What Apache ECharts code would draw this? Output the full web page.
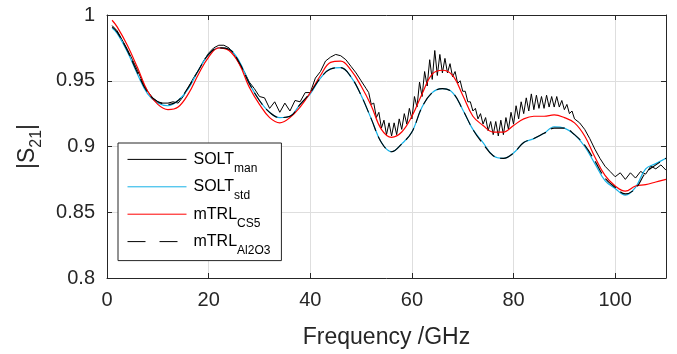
<!DOCTYPE html>
<html>
<head>
<meta charset="utf-8">
<script src="https://cdn.jsdelivr.net/npm/echarts@6/dist/echarts.min.js"></script>
<style>html,body{margin:0;padding:0;background:#fff;}#c{width:677px;height:354px;}</style>
</head>
<body>
<div id="c"></div>
<script>
// Frequencies (GHz) for the noisy SOLT_man trace
const freqMan = [1,2,3,4,5,6,7,8,9,10,11,12,13,14,15,16,17,18,19,20,21,22,23,24,25,26,27,28,29,30,
31,32,33,34,35,36,37,38,39,40,41,42,43,44,45,46,47,48,49,50,51,
51.5,52,52.5,53,53.5,54,54.5,55,55.5,56,56.5,57,57.5,58,58.5,59,59.5,60,60.5,61,
61.5,62,62.5,63,63.5,64,64.5,65,65.5,66,66.5,67,67.5,68,68.5,69,69.5,70,70.5,71,
71.5,72,72.5,73,73.5,74,74.5,75,75.5,76,76.5,77,77.5,78,78.5,79,79.5,80,80.5,81,
81.5,82,82.5,83,83.5,84,84.5,85,85.5,86,86.5,87,87.5,88,88.5,89,89.5,90,90.5,91,
91.5,92,
93,94,95,96,97,98,99,100,101,102,103,104,105,106,107,108,109,110];
const soltMan = [0.992,0.988,0.981,0.974,0.966,0.958,0.949,0.942,0.937,0.934,
0.933,0.933,0.934,0.933,0.938,0.945,0.952,0.958,0.965,0.971,
0.975,0.977,0.977,0.975,0.970,0.963,0.957,0.949,0.944,0.938,
0.937,0.929,0.934,0.926,0.933,0.927,0.935,0.934,0.941,0.941,
0.952,0.957,0.965,0.968,0.970,0.969,0.966,0.961,0.956,0.950,
0.944,
0.941,0.932,0.933,0.922,0.926,0.914,0.920,0.909,0.918,0.908,
0.918,0.909,0.921,0.913,0.925,0.917,0.929,0.921,0.938,0.930,
0.949,0.938,0.957,0.946,0.966,0.951,0.973,0.954,0.970,0.956,
0.967,0.956,0.963,0.953,0.957,0.948,0.950,0.942,0.942,0.934,
0.934,0.927,0.929,0.921,0.925,0.917,0.922,0.912,0.919,0.909,
0.919,0.908,0.920,0.909,0.922,0.913,0.926,0.917,0.931,0.921,
0.934,0.925,0.937,0.927,0.940,0.928,0.939,0.929,0.938,0.929,
0.939,0.930,0.938,0.930,0.938,0.930,0.935,0.928,0.932,0.925,
0.927,0.921,
0.918,0.913,0.906,0.898,0.891,0.885,0.881,0.877,0.880,0.875,0.880,0.876,0.881,0.879,0.885,0.883,0.886,0.882];

// Frequencies (GHz) for the smooth traces
const freq = [1,2,4,6,8,10,12,14,16,18,20,22,24,26,28,30,32,34,36,38,40,42,44,46,48,50,
52,54,56,58,60,62,64,66,68,70,72,74,76,78,80,82,84,86,88,90,92,94,96,98,100,102,104,106,108,110];
const soltStd = [0.990,0.986,0.972,0.955,0.940,0.933,0.931,0.935,0.944,0.958,0.970,0.975,0.974,0.965,0.948,0.935,
0.926,0.922,0.923,0.932,0.940,0.952,0.959,0.960,0.953,0.939,0.921,0.903,0.896,0.902,0.911,0.930,0.941,0.944,
0.941,0.928,0.913,0.903,0.893,0.891,0.895,0.903,0.906,0.910,0.915,0.914,0.909,0.900,0.887,0.874,0.868,0.863,
0.869,0.883,0.887,0.891];
const mtrlCS5 = [0.996,0.991,0.977,0.960,0.942,0.932,0.928,0.930,0.940,0.955,0.968,0.975,0.973,0.963,0.945,0.932,
0.922,0.918,0.922,0.930,0.941,0.954,0.964,0.965,0.958,0.946,0.931,0.913,0.907,0.911,0.923,0.940,0.955,0.958,
0.954,0.939,0.923,0.916,0.911,0.911,0.916,0.921,0.923,0.923,0.924,0.922,0.918,0.908,0.892,0.878,0.870,0.866,
0.870,0.871,0.873,0.875];
const mtrlAl2O3 = [0.991,0.987,0.973,0.956,0.941,0.934,0.932,0.935,0.945,0.958,0.970,0.975,0.974,0.964,0.948,0.935,
0.926,0.922,0.923,0.932,0.941,0.952,0.959,0.960,0.953,0.939,0.921,0.903,0.896,0.902,0.911,0.930,0.941,0.944,
0.941,0.928,0.913,0.902,0.893,0.891,0.895,0.903,0.906,0.910,0.914,0.914,0.909,0.901,0.889,0.876,0.869,0.864,
0.868,0.880,0.886,0.891];

const seriesNames = ['SOLT_man','SOLT_std','mTRL_CS5','mTRL_Al2O3'];
const xTicks = [0,20,40,60,80,100];
const yTicks = [0.8,0.85,0.9,0.95,1];

const FONT = '"Liberation Sans", Arial, Helvetica, sans-serif';
const AX = '#262626';
const pair = (xs, ys) => xs.map((x, i) => [x, ys[i]]);

const chart = echarts.init(document.getElementById('c'), null, {renderer: 'canvas'});
const xBase = {type: 'value', min: 0, max: 110, interval: 20,
  axisLine: {show: true, onZero: false, lineStyle: {color: AX, width: 1}},
  axisTick: {show: true, inside: true, length: 5, lineStyle: {color: AX}}};
const yBase = {type: 'value', min: 0.8, max: 1, interval: 0.05,
  axisLine: {show: true, onZero: false, lineStyle: {color: AX, width: 1}},
  axisTick: {show: true, inside: true, length: 5, lineStyle: {color: AX}}};

const option = {
  animation: false,
  textStyle: {fontFamily: FONT},
  grid: {left: 107, right: 11, top: 15, bottom: 75},
  xAxis: [
    Object.assign({}, xBase, {position: 'bottom',
      axisLabel: {color: AX, fontSize: 20, fontFamily: FONT, margin: 12,
        formatter: v => xTicks.indexOf(v) >= 0 ? String(v) : ''},
      splitLine: {show: true, lineStyle: {color: '#dedede', width: 1}},
      name: 'Frequency /GHz', nameLocation: 'middle', nameGap: 48,
      nameTextStyle: {color: AX, fontSize: 23, fontFamily: FONT}}),
    Object.assign({}, xBase, {position: 'top', axisLabel: {show: false}, splitLine: {show: false}})
  ],
  yAxis: [
    Object.assign({}, yBase, {position: 'left',
      axisLabel: {color: AX, fontSize: 20, fontFamily: FONT, margin: 12,
        formatter: v => { const t = yTicks.find(k => Math.abs(k - v) < 1e-9); return t === undefined ? '' : String(t); }},
      splitLine: {show: true, lineStyle: {color: '#dedede', width: 1}},
      name: '{a||S}{b|21}{a||}', nameLocation: 'middle', nameGap: 62, nameRotate: 90,
      nameTextStyle: {color: AX, fontFamily: FONT,
        rich: {a: {fontSize: 23, lineHeight: 34, color: AX, fontFamily: FONT},
               b: {fontSize: 16, lineHeight: 16, verticalAlign: 'bottom', color: AX, fontFamily: FONT}}}}),
    Object.assign({}, yBase, {position: 'right', axisLabel: {show: false}, splitLine: {show: false}})
  ],
  legend: {
    orient: 'vertical', left: 118, top: 143,
    padding: [4, 11, 4, 9], itemGap: 0, itemWidth: 59, itemHeight: 31,
    borderColor: AX, borderWidth: 1, backgroundColor: '#ffffff', borderRadius: 0,
    itemStyle: {opacity: 0, borderWidth: 0},
    data: [
      {name: seriesNames[0], itemStyle: {opacity: 0}, lineStyle: {width: 1, color: '#000000'}},
      {name: seriesNames[1], itemStyle: {opacity: 0}, lineStyle: {width: 1, color: '#14b1e7'}},
      {name: seriesNames[2], itemStyle: {opacity: 0}, lineStyle: {width: 1, color: '#ff0000'}},
      {name: seriesNames[3], itemStyle: {opacity: 0}, lineStyle: {width: 1, color: '#000000', type: [18, 14]}}
    ],
    formatter: name => { const p = name.split('_'); return '{a|' + p[0] + '}{b|' + p[1] + '}'; },
    textStyle: {color: '#000', fontFamily: FONT,
      rich: {a: {fontSize: 16, lineHeight: 30, color: '#000', fontFamily: FONT, padding: [0, 0, 0, 2]},
             b: {fontSize: 12, lineHeight: 12, verticalAlign: 'bottom', color: '#000', fontFamily: FONT}}}
  },
  series: [
    {name: seriesNames[0], type: 'line', data: pair(freqMan, soltMan), showSymbol: false, symbol: 'none',
     lineStyle: {color: '#000000', width: 1}, itemStyle: {color: '#000000'}, z: 2},
    {name: seriesNames[1], type: 'line', data: pair(freq, soltStd), showSymbol: false, symbol: 'none', smooth: 0.4,
     lineStyle: {color: '#14b1e7', width: 1.2}, itemStyle: {color: '#14b1e7'}, z: 3},
    {name: seriesNames[2], type: 'line', data: pair(freq, mtrlCS5), showSymbol: false, symbol: 'none', smooth: 0.4,
     lineStyle: {color: '#ff0000', width: 1.2}, itemStyle: {color: '#ff0000'}, z: 4},
    {name: seriesNames[3], type: 'line', data: pair(freq, mtrlAl2O3), showSymbol: false, symbol: 'none', smooth: 0.4,
     lineStyle: {color: '#000000', width: 1.1, type: [14, 6]}, itemStyle: {color: '#000000'}, z: 5}
  ]
};
chart.setOption(option);
</script>
</body>
</html>
